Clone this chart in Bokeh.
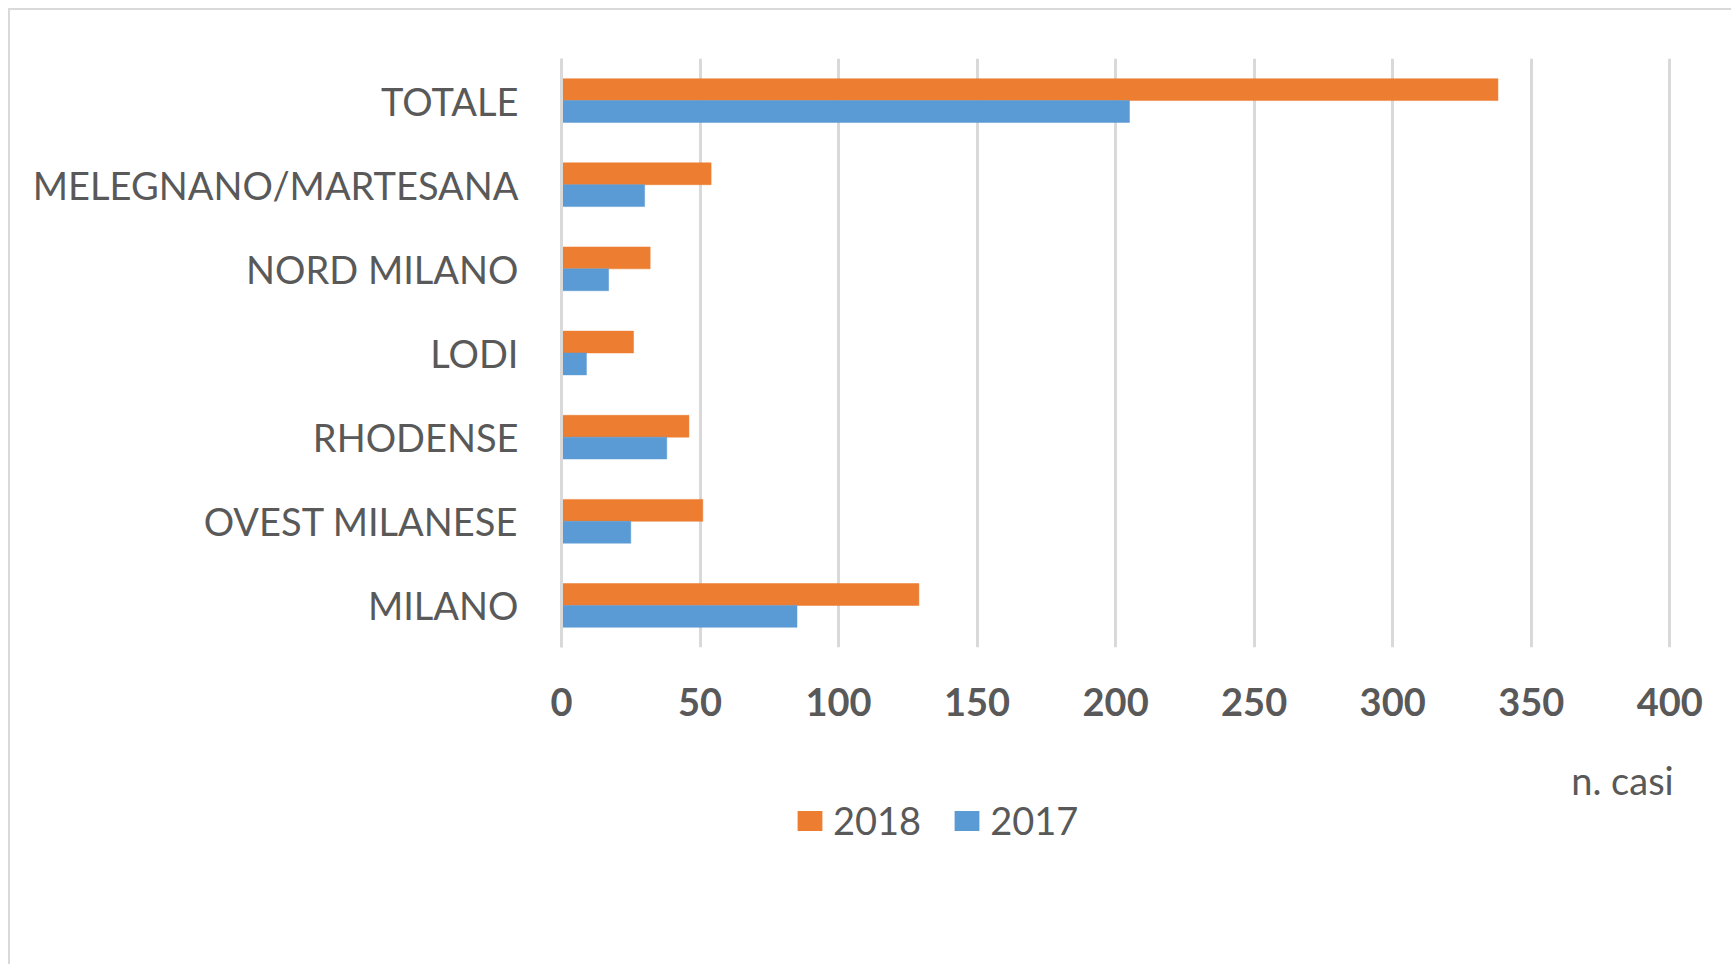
from bokeh.plotting import figure
from bokeh.layouts import column
from bokeh.models import FactorRange, Range1d, ColumnDataSource, Legend, LegendItem, Label, FixedTicker
from bokeh.transform import dodge
from bokeh.embed import file_html
from bokeh.resources import INLINE

# categories bottom -> top
categories = ["MILANO", "OVEST MILANESE", "RHODENSE", "LODI", "NORD MILANO",
              "MELEGNANO/MARTESANA", "TOTALE"]
values_2018 = [129, 51, 46, 26, 32, 54, 338]
values_2017 = [85, 25, 38, 9, 17, 30, 205]
x_ticks = [0, 50, 100, 150, 200, 250, 300, 350, 400]
series_names = ["2018", "2017"]
axis_title = "n. casi"
colors = ["#ED7D31", "#5B9BD5"]

TEXT = "#595959"
GRID = "#D9D9D9"
FONT = "Lato"

src = ColumnDataSource(dict(cat=categories, v2018=values_2018, v2017=values_2017))

# ---- main chart ----
p = figure(width=1721, height=731, output_backend="svg", toolbar_location=None,
           y_range=FactorRange(factors=categories), x_range=Range1d(0, 401),
           min_border_left=551, min_border_top=48, min_border_right=59, min_border_bottom=94)
p.outline_line_color = None

bar_kw = dict(left=0, height=0.26, line_width=0.5)
p.hbar(y=dodge("cat", 0.13, range=p.y_range), right="v2018", source=src,
       fill_color=colors[0], line_color=colors[0], **bar_kw)
p.hbar(y=dodge("cat", -0.13, range=p.y_range), right="v2017", source=src,
       fill_color=colors[1], line_color=colors[1], **bar_kw)

p.xaxis.ticker = FixedTicker(ticks=x_ticks)
p.xaxis.axis_line_color = None
p.xaxis.major_tick_line_color = None
p.xaxis.minor_tick_line_color = None
p.xaxis.major_label_text_font = FONT
p.xaxis.major_label_text_font_style = "bold"
p.xaxis.major_label_text_font_size = "38px"
p.xaxis.major_label_text_color = TEXT
p.xaxis.major_label_standoff = 34

p.yaxis.axis_line_color = GRID
p.yaxis.axis_line_width = 3
p.yaxis.major_tick_line_color = None
p.yaxis.minor_tick_line_color = None
p.yaxis.major_label_text_font = FONT
p.yaxis.major_label_text_font_size = "38px"
p.yaxis.major_label_text_color = TEXT
p.yaxis.major_label_standoff = 37

p.xgrid.grid_line_color = GRID
p.xgrid.grid_line_width = 3
p.ygrid.grid_line_color = None

# ---- strip below: axis title + legend ----
lg = figure(width=1721, height=223, output_backend="svg", toolbar_location=None,
            x_range=p.x_range, y_range=Range1d(0, 223),
            x_axis_location=None, y_axis_location=None,
            min_border_left=551, min_border_right=59, min_border_top=0, min_border_bottom=0)
lg.outline_line_color = None
lg.grid.visible = False

lg.add_layout(Label(x=400, y=185, text=axis_title, text_align="right", text_baseline="middle",
                    x_offset=4, text_font=FONT, text_font_size="38px", text_color=TEXT))

# legend proxies (zero-width bars kept far outside the visible strip)
proxy_kw = dict(y=[-5000], left=[0], right=[0], height=1, line_alpha=0)
l18 = lg.hbar(fill_color=colors[0], **proxy_kw)
l17 = lg.hbar(fill_color=colors[1], **proxy_kw)

legend = Legend(items=[LegendItem(label=series_names[0], renderers=[l18]),
                       LegendItem(label=series_names[1], renderers=[l17])],
                location=(233, 121), orientation="horizontal",
                glyph_width=31, glyph_height=25, label_text_font=FONT,
                label_text_font_size="38px", label_text_color=TEXT,
                spacing=30, padding=0, margin=0, label_standoff=8,
                border_line_color=None, background_fill_alpha=0)
lg.add_layout(legend, "center")

layout = column(p, lg, spacing=0,
                styles={"border-left": "2px solid #D9D9D9", "border-top": "2px solid #D9D9D9",
                        "margin-left": "8px", "margin-top": "8px"})

open("out.html", "w").write(file_html(layout, INLINE))
